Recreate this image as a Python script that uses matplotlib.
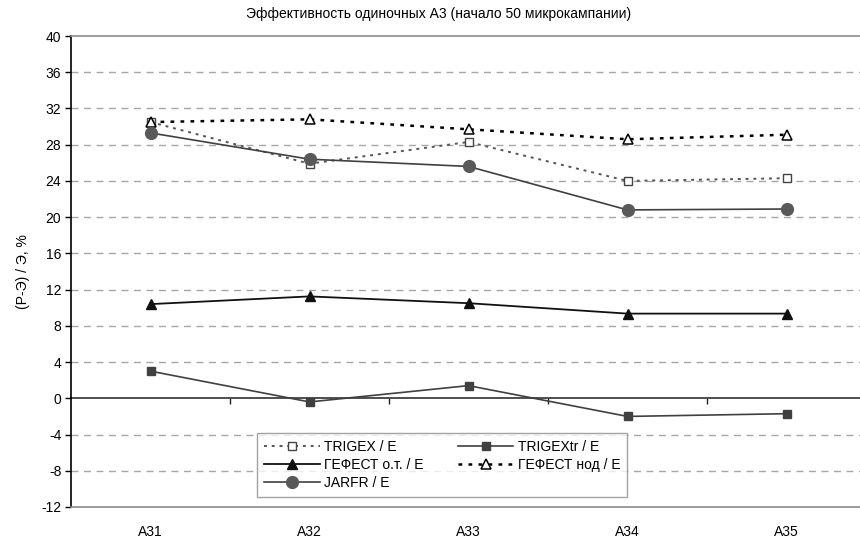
import numpy as np
import matplotlib.pyplot as plt

# data
categories = ['A31', 'A32', 'A33', 'A34', 'A35']
trigex = [30.5, 25.9, 28.3, 24.0, 24.3]
trigex_tr = [3.0, -0.4, 1.4, -2.0, -1.7]
gefest_ot = [10.4, 11.25, 10.5, 9.35, 9.35]
gefest_nod = [30.5, 30.8, 29.7, 28.6, 29.1]
jarfr = [29.3, 26.4, 25.6, 20.8, 20.9]

y_ticks = list(range(-12, 41, 4))

plt.rcParams['font.family'] = ['Liberation Sans', 'DejaVu Sans']
plt.rcParams['axes.unicode_minus'] = False

fig = plt.figure(figsize=(8.6, 5.4), dpi=100)
ax = fig.add_axes([71 / 860, 33 / 540, 795 / 860, 471 / 540])

x = np.arange(len(categories))

h_trigex, = ax.plot(x, trigex, ls=(0, (1.5, 2.5)), lw=1.4, color='#555555',
                    marker='s', ms=6, mfc='white', mec='#444444', mew=1.0,
                    label='TRIGEX / E')
h_tr, = ax.plot(x, trigex_tr, ls='-', lw=1.2, color='#404040',
                marker='s', ms=6, mfc='#404040', mec='#404040',
                label='TRIGEXtr / E')
h_ot, = ax.plot(x, gefest_ot, ls='-', lw=1.3, color='#111111',
                marker='^', ms=7, mfc='#111111', mec='#111111',
                label='ГЕФЕСТ о.т. / E')
h_nod, = ax.plot(x, gefest_nod, ls=(0, (1.5, 2.5)), lw=1.8, color='#000000',
                 marker='^', ms=7, mfc='white', mec='#000000', mew=1.1,
                 label='ГЕФЕСТ нод / E')
h_jarfr, = ax.plot(x, jarfr, ls='-', lw=1.2, color='#404040',
                   marker='o', ms=8.5, mfc='#595959', mec='#595959',
                   label='JARFR / E')

ax.set_xlim(-0.5, len(categories) - 0.5)
ax.set_ylim(-12, 40)
ax.set_yticks(y_ticks)
ax.set_yticklabels([str(v) for v in y_ticks], fontsize=10)
ax.set_xticks(x)
ax.set_xticklabels(categories, fontsize=10)
ax.tick_params(axis='x', length=0, pad=13)
ax.tick_params(axis='y', direction='out', length=4, width=1, pad=3)

for v in y_ticks:
    if v not in (-12, 0, 40):
        ax.axhline(v, color='#a6a6a6', lw=1.0, ls=(0, (5, 4)), zorder=0)

ax.spines['left'].set_color('black')
ax.spines['left'].set_linewidth(1.2)
ax.spines['top'].set_color('#8c8c8c')
ax.spines['top'].set_linewidth(1.2)
ax.spines['bottom'].set_color('#8c8c8c')
ax.spines['bottom'].set_linewidth(1.2)
ax.spines['right'].set_visible(False)

# category axis crossing at zero with tick marks between categories
sec = ax.secondary_xaxis((0 - (-12)) / (40 - (-12)))
sec.set_xticks(x[:-1] + 0.5)
sec.set_xticklabels([''] * (len(categories) - 1))
sec.tick_params(direction='out', length=4, width=1, color='#222222')
sec.spines['bottom'].set_color('#404040')
sec.spines['bottom'].set_linewidth(1.3)

ax.set_ylabel('(Р-Э) / Э, %', fontsize=10, labelpad=8)

fig.text(439 / 860, 1 - 14 / 540, 'Эффективность одиночных А3 (начало 50 микрокампании)',
         ha='center', va='center', fontsize=10)

leg = ax.legend([h_trigex, h_ot, h_jarfr, h_tr, h_nod],
                ['TRIGEX / E', 'ГЕФЕСТ о.т. / E', 'JARFR / E', 'TRIGEXtr / E', 'ГЕФЕСТ нод / E'],
                ncol=2, loc='lower left', bbox_to_anchor=((257 - 71) / 795, (507 - 497) / 471),
                fontsize=10, frameon=True, fancybox=False, edgecolor='#8c8c8c',
                handlelength=4.0, handletextpad=0.3, columnspacing=2.5,
                labelspacing=0.3, borderpad=0.5, borderaxespad=0)
leg.get_frame().set_linewidth(1.0)

fig.savefig('out.png', dpi=100)
